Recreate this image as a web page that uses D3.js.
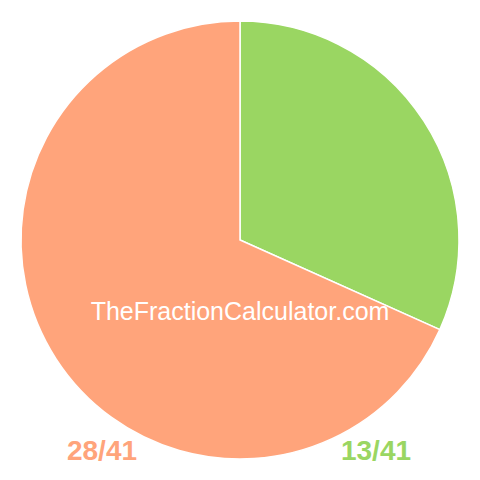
<!DOCTYPE html>
<html>
<head>
<meta charset="utf-8">
<script src="https://cdn.jsdelivr.net/npm/d3@7"></script>
<style>
  body { margin: 0; background: #fff; }
</style>
</head>
<body>
<div id="content"></div>
<script>
const width = 480;
const height = 480;
const radius = 219;

// slices, drawn clockwise from the top
const labels = ['13/41', '28/41'];
const values = [13, 28];
const colors = ['#9AD662', '#FFA47B'];

const svg = d3.select('#content')
    .append('svg')
    .attr('width', width)
    .attr('height', height);

const pie = d3.pie().sort(null).value((d) => d.value);
const arc = d3.arc().innerRadius(0).outerRadius(radius);

const data = labels.map((l, i) => ({label: l, value: values[i], color: colors[i]}));

svg.append('g')
    .attr('transform', `translate(${width/2},${height/2})`)
    .selectAll('path')
    .data(pie(data))
    .join('path')
    .attr('d', arc)
    .attr('fill', (d) => d.data.color)
    .attr('stroke', '#fff')
    .attr('stroke-width', 1.5);

svg.append('text')
    .attr('x', width/2)
    .attr('y', 320)
    .attr('text-anchor', 'middle')
    .attr('font-family', 'Liberation Sans, Arial, sans-serif')
    .attr('font-size', 25)
    .attr('fill', '#fff')
    .text('TheFractionCalculator.com');

// fraction labels along the bottom
const labelX = {'28/41': 102, '13/41': 376};
svg.append('g')
    .selectAll('text')
    .data(data)
    .join('text')
    .attr('x', (d) => labelX[d.label])
    .attr('y', 460)
    .attr('text-anchor', 'middle')
    .attr('font-family', 'Liberation Sans, Arial, sans-serif')
    .attr('font-weight', 'bold')
    .attr('font-size', 28)
    .attr('fill', (d) => d.color)
    .text((d) => d.label);
</script>
</body>
</html>
